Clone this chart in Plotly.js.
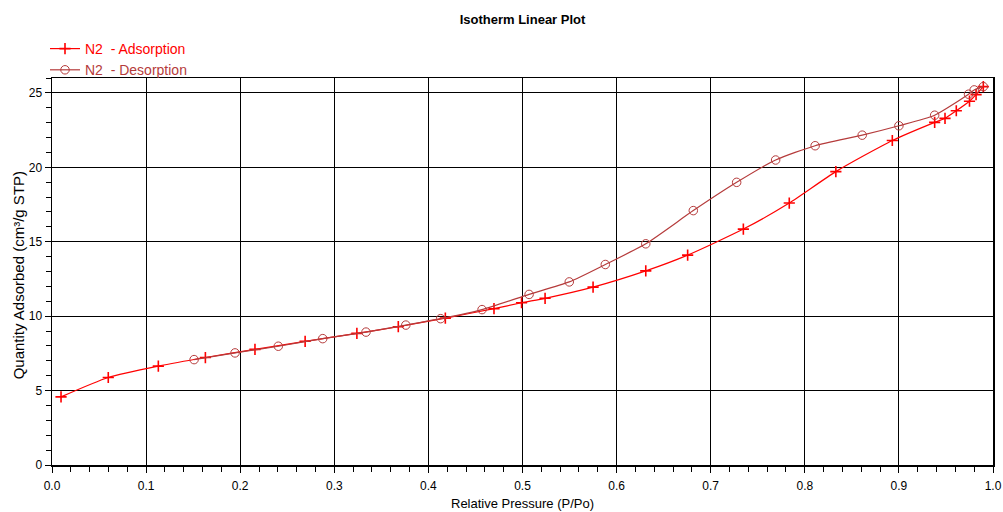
<!DOCTYPE html>
<html>
<head>
<meta charset="utf-8">
<script src="https://cdn.plot.ly/plotly-3.0.1.min.js"></script>
<style>html,body{margin:0;padding:0;background:#fff;}#chart{width:1003px;height:512px;}</style>
</head>
<body>
<div id="chart"></div>
<script>
const adsP = [0.0096, 0.0598, 0.113, 0.163, 0.2157, 0.269, 0.324, 0.368, 0.418, 0.4697, 0.499, 0.524, 0.575, 0.631, 0.6755, 0.7347, 0.7835, 0.833, 0.893, 0.938, 0.949, 0.961, 0.975, 0.982, 0.9897];
const adsQ = [4.58, 5.88, 6.64, 7.22, 7.77, 8.31, 8.84, 9.29, 9.87, 10.5, 10.9, 11.2, 11.95, 13.04, 14.1, 15.85, 17.6, 19.71, 21.8, 23.02, 23.29, 23.8, 24.44, 24.88, 25.42];
const desP = [0.9897, 0.980, 0.974, 0.938, 0.900, 0.861, 0.811, 0.769, 0.7276, 0.6815, 0.631, 0.588, 0.5497, 0.507, 0.457, 0.413, 0.376, 0.3337, 0.2877, 0.2405, 0.1945, 0.151];
const desQ = [25.42, 25.2, 24.91, 23.5, 22.79, 22.16, 21.45, 20.49, 18.99, 17.09, 14.86, 13.47, 12.3, 11.46, 10.44, 9.83, 9.4, 8.93, 8.49, 7.98, 7.53, 7.08];
const xTickVals = [0, 0.1, 0.2, 0.3, 0.4, 0.5, 0.6, 0.7, 0.8, 0.9, 1.0];
const xTickText = ['0.0', '0.1', '0.2', '0.3', '0.4', '0.5', '0.6', '0.7', '0.8', '0.9', '1.0'];
const yTickVals = [0, 5, 10, 15, 20, 25];
const yTitle = 'Quantity Adsorbed (cm³/g STP)';

const adsColor = '#ff0000';
const desColor = '#b53b3b';

const traces = [
  {
    x: adsP, y: adsQ, name: 'N2\u00a0\u00a0- Adsorption', type: 'scatter', mode: 'lines+markers',
    line: {color: adsColor, width: 1.2, shape: 'spline', smoothing: 0.6},
    marker: {symbol: 'cross-thin-open', size: 8, color: adsColor, line: {color: adsColor, width: 1.6}}
  },
  {
    x: desP, y: desQ, name: 'N2\u00a0\u00a0- Desorption', type: 'scatter', mode: 'lines+markers',
    line: {color: desColor, width: 1.2, shape: 'spline', smoothing: 0.6},
    marker: {symbol: 'circle-open', size: 8.5, color: desColor, line: {color: desColor, width: 1}}
  }
];

const L = 52, R = 10, T = 78, B = 47, W = 1003, H = 512;
const pw = W - L - R, ph = H - T - B;

const layout = {
  width: W, height: H,
  margin: {l: L, r: R, t: T, b: B, autoexpand: false},
  paper_bgcolor: '#fff', plot_bgcolor: '#fff',
  font: {family: 'Liberation Sans, Arial, sans-serif', size: 12, color: '#000'},
  title: {text: '<b>Isotherm Linear Plot</b>', font: {size: 13, color: '#000'}, x: 0.5, xref: 'paper', xanchor: 'center', y: 1 - 19 / H, yref: 'container', yanchor: 'middle'},
  showlegend: true,
  legend: {x: (45 - L) / pw, xref: 'paper', y: 1 + (T - 33) / ph, yref: 'paper', xanchor: 'left', yanchor: 'top', bgcolor: 'rgba(0,0,0,0)',
           font: {size: 14}, tracegroupgap: 0, itemwidth: 30},
  annotations: [
    {
      text: yTitle, xref: 'paper', yref: 'paper', x: (18 - L) / pw, y: 0.49,
      xanchor: 'center', yanchor: 'middle', textangle: -90, showarrow: false,
      font: {size: 15, color: '#000'}
    },
    {
      text: 'Relative Pressure (P/Po)', xref: 'paper', yref: 'paper', x: 0.5, y: -(503 - (T + ph)) / ph,
      xanchor: 'center', yanchor: 'middle', showarrow: false,
      font: {size: 13, color: '#000'}
    }
  ],
  xaxis: {
    range: [0, 1], tickvals: xTickVals, ticktext: xTickText,
    showgrid: true, gridcolor: '#000', gridwidth: 1,
    showline: true, linecolor: '#000', linewidth: 1.5, mirror: true,
    ticks: 'outside', ticklen: 6, tickcolor: '#000', tickfont: {size: 12}, ticklabelstandoff: 3,
    minor: {dtick: 0.02, ticks: 'outside', ticklen: 5, tickcolor: '#000', showgrid: false},
    zeroline: false
  },
  yaxis: {
    range: [0, 26], tickvals: yTickVals,
    showgrid: true, gridcolor: '#000', gridwidth: 1,
    showline: true, linecolor: '#000', linewidth: 1.5, mirror: true,
    ticks: 'outside', ticklen: 6, tickcolor: '#000', tickfont: {size: 12},
    minor: {dtick: 1, ticks: 'outside', ticklen: 5, tickcolor: '#000', showgrid: false},
    zeroline: false
  }
};

Plotly.newPlot('chart', traces, layout, {displayModeBar: false, staticPlot: true}).then(() => {
  const texts = document.querySelectorAll('.legendtext');
  const cols = [adsColor, desColor];
  texts.forEach((t, i) => { t.style.fill = cols[i]; });
});
</script>
</body>
</html>
